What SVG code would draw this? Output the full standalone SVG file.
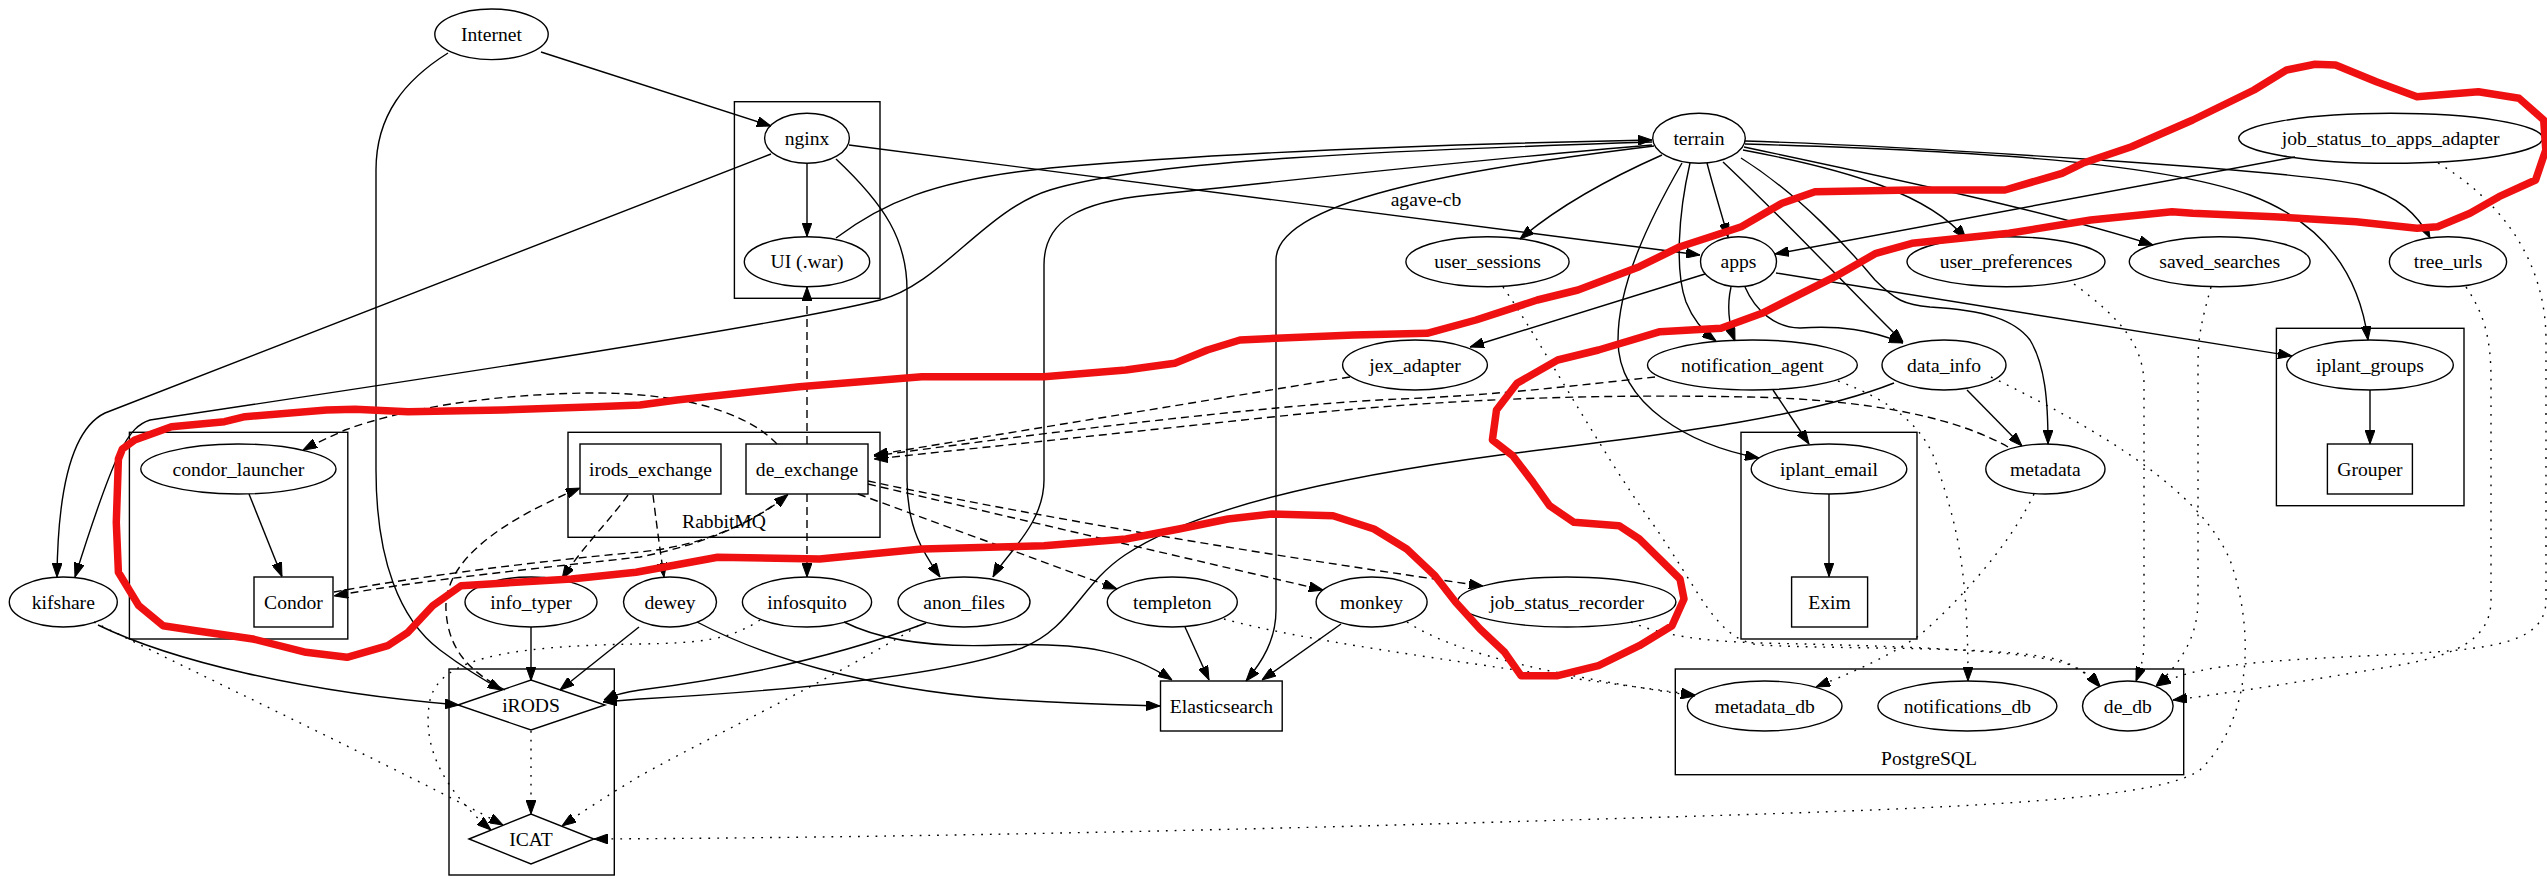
<svg xmlns="http://www.w3.org/2000/svg" width="2547" height="879" viewBox="0 0 2547 879">
<defs>
<marker id="a" viewBox="0 0 14 10" refX="14" refY="5" markerWidth="14" markerHeight="10" markerUnits="userSpaceOnUse" orient="auto"><path d="M0,0L14,5L0,10z" fill="#000" stroke="#000" stroke-width="1"/></marker>
</defs>
<style>
.n ellipse,.n rect,.n polygon,.c{fill:none;stroke:#000;stroke-width:1.4}
text{font-family:"Liberation Serif","Times New Roman",serif;font-size:19.6px;text-anchor:middle;fill:#000}
#edges path{fill:none;stroke:#000;stroke-width:1.4;marker-end:url(#a)}
#edges path.d{stroke-dasharray:8,5}
#edges path.o{stroke-dasharray:1.8,7}
</style>
<rect width="2547" height="879" fill="#fff"/>
<g id="clusters">
<rect class="c" x="734.4" y="101.7" width="145.6" height="196.6"/>
<rect class="c" x="568" y="432.3" width="312" height="105"/>
<text x="724" y="528">RabbitMQ</text>
<rect class="c" x="129.4" y="432.3" width="218.4" height="206.7"/>
<rect class="c" x="449" y="669" width="165.3" height="206"/>
<rect class="c" x="1741" y="432.3" width="176" height="206.7"/>
<rect class="c" x="2276.4" y="328.3" width="187.6" height="177.4"/>
<rect class="c" x="1675.3" y="669" width="508.4" height="105.7"/>
<text x="1929" y="765">PostgreSQL</text>
</g>
<g id="edges">
<path d="M541,52 L771,126"/>
<path d="M448,53 C405,80 376,115 376,170 L376,470 C376,560 400,620 440,650 C460,665 480,678 502,690"/>
<path d="M807,163 L807,236.5"/>
<path d="M771,154 L105,413 C78,426 58,470 57,577"/>
<path d="M849,145 L1700,255"/>
<path d="M836,159 C885,205 907,240 907,290 L907,480 C907,530 925,555 940,577"/>
<path d="M836,238 C880,205 930,180 1050,168 C1250,150 1500,143 1652,140"/>
<path d="M1652,142 C1400,150 1150,160 1050,190 C985,210 940,285 880,300 C780,325 450,375 150,420 C128,427 115,450 75,577"/>
<path d="M1652,145 C1450,162 1250,185 1150,195 C1080,202 1044,220 1044,265 L1044,480 C1044,525 1005,555 993,577"/>
<path d="M1654,146 C1500,165 1276,195 1276,260 L1276,610 C1276,640 1262,662 1246,681"/>
<path d="M1662,155 C1610,178 1560,205 1520,239"/>
<path d="M1707,163 C1714,190 1721,212 1728,237"/>
<path d="M1690,163 C1678,215 1675,272 1686,302 C1694,322 1705,333 1716,341"/>
<path d="M1682,163 C1648,222 1618,285 1618,340 C1618,405 1690,445 1759,458"/>
<path d="M1723,162 C1790,225 1850,290 1903,342"/>
<path d="M1741,158 C1800,195 1850,250 1875,280 C1895,300 1905,305 1930,307 C1985,310 2015,320 2030,340 C2045,365 2048,400 2048,444"/>
<path d="M1743,150 C1850,170 1930,195 1966,239"/>
<path d="M1744,147 C1900,180 2050,212 2153,245"/>
<path d="M1745,141 C1900,146 2300,170 2360,185 C2400,197 2418,215 2430,238"/>
<path d="M1745,144 C1950,150 2150,160 2250,195 C2330,225 2360,280 2368,340"/>
<path d="M1705,274 L1470,347"/>
<path d="M1731,287 C1727,305 1729,325 1735,341"/>
<path d="M1745,287 C1755,310 1775,328 1800,328 C1840,325 1870,330 1903,343"/>
<path d="M1776,273 L2292,356"/>
<path d="M2295,157 L1775,254"/>
<path d="M1773,390 L1809,444"/>
<path d="M1967,390 L2022,446"/>
<path d="M1894,383 C1800,420 1650,436 1500,455 C1350,475 1200,505 1125,555 C1080,585 1072,628 1022,648 C950,674 800,690 640,699 L603,702"/>
<path d="M926,623 C850,652 750,676 640,690 C625,692 612,696 604,700"/>
<path d="M98,625 C170,660 300,692 459,705"/>
<path d="M531,627 L531,680.5"/>
<path d="M639,627 L560,690"/>
<path d="M697,622 C760,655 860,688 1000,699 C1080,704 1130,705 1160,706"/>
<path d="M844,622 C880,640 930,648 1000,645 C1085,642 1130,652 1172,680"/>
<path d="M1185,627 L1209,680"/>
<path d="M1341,624 L1262,680"/>
<path d="M249,494 L282,576.5"/>
<path d="M1829,494 L1829,576.5"/>
<path d="M2370,390 L2370,444"/>
<path class="d" d="M807,444 L807,287"/>
<path class="d" d="M807,494 L807,577"/>
<path class="d" d="M777,444 C740,405 660,392 586,393 C480,395 400,410 345,430 C330,437 316,443 303,450"/>
<path class="d" d="M505,690 C470,672 448,650 446,610 C444,570 480,530 580,488"/>
<path class="d" d="M628,495 C610,520 580,550 562,579"/>
<path class="d" d="M653,495 C656,520 660,550 664,577"/>
<path class="d" d="M858,494 L1117,589"/>
<path class="d" d="M868,484 L1323,590"/>
<path class="d" d="M868,481 C1050,520 1300,560 1483,586"/>
<path class="d" d="M785,497 C750,525 700,545 640,557 C550,567 420,580 334,596"/>
<path class="d" d="M334,592 C420,576 540,561 640,552 C700,546 750,525 788,494.5"/>
<path class="d" d="M1350,377 L874,455"/>
<path class="d" d="M1655,377 C1580,385 1500,395 1400,399 C1300,403 1100,425 874,456"/>
<path class="d" d="M2008,447 C1960,420 1880,400 1750,397 C1600,394 1450,398 1272,417 L874,459"/>
<path class="o" d="M1503,287 C1540,340 1600,450 1650,520 C1700,590 1715,640 1760,645 C1850,650 2000,645 2060,660 C2078,667 2090,675 2100,686"/>
<path class="o" d="M1631,622 C1660,635 1700,641 1760,643 C1900,646 2030,650 2070,665 C2085,672 2094,680 2100,687"/>
<path class="o" d="M2074,284 C2120,318 2144,345 2144,385 L2144,640 C2144,660 2140,670 2136,681"/>
<path class="o" d="M2211,287 C2202,320 2198,335 2198,365 L2198,600 C2198,640 2178,665 2156,686"/>
<path class="o" d="M2438,163 C2500,200 2546,260 2546,340 L2546,600 C2546,640 2500,648 2420,653 C2300,660 2200,660 2157,686"/>
<path class="o" d="M2466,287 C2485,315 2491,340 2491,380 L2491,600 C2491,640 2455,655 2400,665 C2300,682 2230,693 2173,700"/>
<path class="o" d="M1838,381 C1890,400 1922,425 1935,460 C1955,520 1968,560 1968,681"/>
<path class="o" d="M2034,494 C2010,545 1960,600 1920,635 C1880,662 1845,675 1816,687"/>
<path class="o" d="M1224,619 C1300,640 1450,660 1550,675 C1620,685 1660,690 1695,695"/>
<path class="o" d="M1407,622 C1450,650 1530,672 1695,696"/>
<path class="o" d="M1991,377 C2100,430 2200,490 2230,560 C2255,630 2252,720 2200,770 C2150,805 1900,810 1500,822 C1100,834 800,838 594,839"/>
<path class="o" d="M94,622 C200,675 400,770 503,825"/>
<path class="o" d="M760,620 C730,640 700,643 640,644 C500,646 440,660 430,700 C420,752 450,795 491,830"/>
<path class="o" d="M918,626 C830,680 700,742 640,776 C605,797 585,810 562,826"/>
<path class="o" d="M531,731 L531,814"/>
</g>
<text x="1426" y="206">agave-cb</text>
<g id="Internet" class="n"><ellipse cx="491.5" cy="34.3" rx="56.7" ry="25.3"/><text x="491.5" y="40.8">Internet</text></g>
<g id="nginx" class="n"><ellipse cx="807" cy="138.3" rx="42.4" ry="25"/><text x="807" y="144.8">nginx</text></g>
<g id="ui" class="n"><ellipse cx="807" cy="261.7" rx="62.7" ry="25"/><text x="807" y="268.2">UI (.war)</text></g>
<g id="terrain" class="n"><ellipse cx="1699" cy="138.3" rx="46.3" ry="25"/><text x="1699" y="144.8">terrain</text></g>
<g id="job_status_to_apps_adapter" class="n"><ellipse cx="2390.7" cy="138.3" rx="152" ry="25"/><text x="2390.7" y="144.8">job_status_to_apps_adapter</text></g>
<g id="user_sessions" class="n"><ellipse cx="1487.5" cy="261.7" rx="81.6" ry="25"/><text x="1487.5" y="268.2">user_sessions</text></g>
<g id="apps" class="n"><ellipse cx="1738.5" cy="261.7" rx="38" ry="25"/><text x="1738.5" y="268.2">apps</text></g>
<g id="user_preferences" class="n"><ellipse cx="2006" cy="261.7" rx="99" ry="25"/><text x="2006" y="268.2">user_preferences</text></g>
<g id="saved_searches" class="n"><ellipse cx="2219.7" cy="261.7" rx="90.4" ry="25"/><text x="2219.7" y="268.2">saved_searches</text></g>
<g id="tree_urls" class="n"><ellipse cx="2448" cy="261.7" rx="58.6" ry="25"/><text x="2448" y="268.2">tree_urls</text></g>
<g id="jex_adapter" class="n"><ellipse cx="1415" cy="365" rx="72.4" ry="25"/><text x="1415" y="371.5">jex_adapter</text></g>
<g id="notification_agent" class="n"><ellipse cx="1752.4" cy="365" rx="104.9" ry="25"/><text x="1752.4" y="371.5">notification_agent</text></g>
<g id="data_info" class="n"><ellipse cx="1944" cy="365" rx="62" ry="25"/><text x="1944" y="371.5">data_info</text></g>
<g id="iplant_groups" class="n"><ellipse cx="2370" cy="365" rx="83.3" ry="25"/><text x="2370" y="371.5">iplant_groups</text></g>
<g id="condor_launcher" class="n"><ellipse cx="238.4" cy="469" rx="97.6" ry="25"/><text x="238.4" y="475.5">condor_launcher</text></g>
<g id="irods_exchange" class="n"><rect x="580" y="444" width="141" height="50"/><text x="650.5" y="475.5">irods_exchange</text></g>
<g id="de_exchange" class="n"><rect x="746" y="444" width="122" height="50"/><text x="807" y="475.5">de_exchange</text></g>
<g id="iplant_email" class="n"><ellipse cx="1829" cy="469" rx="77.8" ry="25"/><text x="1829" y="475.5">iplant_email</text></g>
<g id="metadata" class="n"><ellipse cx="2045.4" cy="469" rx="59.6" ry="25"/><text x="2045.4" y="475.5">metadata</text></g>
<g id="Grouper" class="n"><rect x="2327.4" y="444" width="85" height="50"/><text x="2370" y="475.5">Grouper</text></g>
<g id="kifshare" class="n"><ellipse cx="63.3" cy="602" rx="54" ry="25"/><text x="63.3" y="608.5">kifshare</text></g>
<g id="Condor" class="n"><rect x="254" y="577" width="79" height="50"/><text x="293.5" y="608.5">Condor</text></g>
<g id="info_typer" class="n"><ellipse cx="531" cy="602" rx="66" ry="25"/><text x="531" y="608.5">info_typer</text></g>
<g id="dewey" class="n"><ellipse cx="670" cy="602" rx="46.5" ry="25"/><text x="670" y="608.5">dewey</text></g>
<g id="infosquito" class="n"><ellipse cx="807" cy="602" rx="64.6" ry="25"/><text x="807" y="608.5">infosquito</text></g>
<g id="anon_files" class="n"><ellipse cx="964" cy="602" rx="66" ry="25"/><text x="964" y="608.5">anon_files</text></g>
<g id="templeton" class="n"><ellipse cx="1172.3" cy="602" rx="65" ry="25"/><text x="1172.3" y="608.5">templeton</text></g>
<g id="monkey" class="n"><ellipse cx="1371.6" cy="602" rx="55.5" ry="25"/><text x="1371.6" y="608.5">monkey</text></g>
<g id="job_status_recorder" class="n"><ellipse cx="1566.7" cy="602" rx="109.2" ry="25"/><text x="1566.7" y="608.5">job_status_recorder</text></g>
<g id="Exim" class="n"><rect x="1791.6" y="577" width="76" height="50"/><text x="1829.6" y="608.5">Exim</text></g>
<g id="iRODS" class="n"><polygon points="458,705 531,680 605,705 531,730"/><text x="531" y="711.5">iRODS</text></g>
<g id="Elasticsearch" class="n"><rect x="1160.5" y="681" width="121.7" height="50"/><text x="1221.4" y="712.5">Elasticsearch</text></g>
<g id="metadata_db" class="n"><ellipse cx="1764.7" cy="706" rx="77.3" ry="25"/><text x="1764.7" y="712.5">metadata_db</text></g>
<g id="notifications_db" class="n"><ellipse cx="1967.4" cy="706" rx="89.5" ry="25"/><text x="1967.4" y="712.5">notifications_db</text></g>
<g id="de_db" class="n"><ellipse cx="2127.8" cy="706" rx="45.3" ry="25"/><text x="2127.8" y="712.5">de_db</text></g>
<g id="ICAT" class="n"><polygon points="469,839 531,814 594,839 531,864"/><text x="531" y="845.5">ICAT</text></g>
<g id="annotation">
<path fill="none" stroke="#ef1111" stroke-width="7.5" stroke-linejoin="round" stroke-linecap="round" d="M134.7,440 L171.4,426.7 L224.5,421.7 L245,416.7 L326.5,410 L355,409.3 L408,411.7 L502,410 L596,406.7 L640,405 L676.8,400 L799.3,386.7 L921.7,376.7 L1044,376.7 L1125.8,370 L1174.8,363.3 L1207.4,350 L1240,340 L1276,338.3 L1353.6,335 L1427,333.3 L1476,320 L1537.3,300 L1578,290 L1639.3,266.7 L1680,246.7 L1741.4,226.7 L1782,203.3 L1815,191.7 L1912,190 L2005,190 L2062,173.3 L2082.5,163.3 L2131.5,146.7 L2192.7,120 L2254,90 L2286.6,70 L2315,64.3 L2335.6,65 L2376.4,81.7 L2417,96.7 L2478.4,91.7 L2519,98.3 L2543.7,120 L2545.8,150 L2535.6,180 L2499,196.7 L2470,213.3 L2437.6,226.7 L2417,228.3 L2356,221.7 L2274,216.7 L2192.7,213.3 L2172,211.7 L2090.7,220 L2009,233.3 L1912,243.3 L1876,253.3 L1835,276.7 L1762,313.3 L1721,328.3 L1660,331.7 L1598.5,350 L1557.7,360 L1517,383.3 L1496.5,410 L1492.4,440 L1512.8,455.7 L1533,482.3 L1549.5,505.7 L1574,522.3 L1619,525.7 L1639.3,539 L1680,579 L1684,599 L1672,625.7 L1639.3,645.7 L1598.5,665.7 L1557.7,675.7 L1521,675.7 L1504.7,652.3 L1480,629 L1455.7,602.3 L1435,575.7 L1406.7,549 L1374,529 L1333,515.7 L1272,514 L1228,519 L1179,529 L1126,539 L1044,545.7 L921.7,549 L819.7,559 L717.6,557.3 L636,572.3 L571.4,579 L461,585.7 L432.7,605.7 L408,632.3 L387.8,645.7 L347,657.3 L306,652.3 L253,639 L196,630.7 L163,625.7 L138.8,605.7 L118.4,572.3 L116.3,522.3 L118.4,459 L122.4,449 Z"/>
</g>
</svg>
